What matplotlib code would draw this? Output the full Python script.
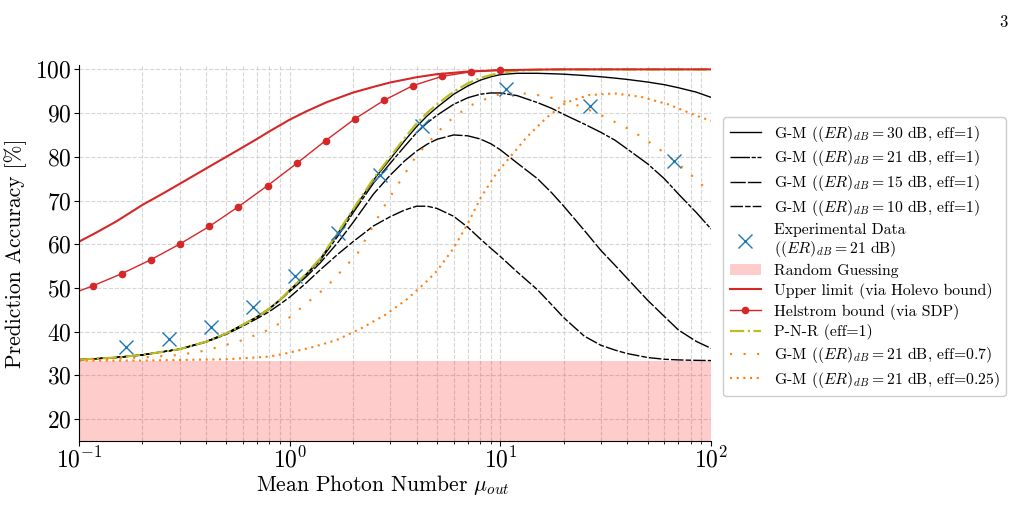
"""
Prediction accuracy vs mean photon number: G-M receivers, bounds and experiment.
"""

import matplotlib
matplotlib.use("Agg")
import matplotlib.pyplot as plt
from matplotlib.patches import Patch

plt.rcParams['font.family'] = ['cmr10', 'DejaVu Serif']
plt.rcParams['mathtext.fontset'] = 'cm'
plt.rcParams['axes.formatter.use_mathtext'] = True

# --- Data ---

# eff=1 curves share one grid of mean photon numbers
MU = [0.1, 0.15, 0.2, 0.3, 0.4, 0.5, 0.6, 0.7, 0.8, 0.9,
      1.0, 1.2, 1.4, 1.7, 2.0, 2.5, 3.0, 3.5, 4.0, 4.5,
      5.0, 6.0, 7.0, 8.0, 9.0, 10, 12, 15, 17.5, 20,
      25, 30, 35, 40, 50, 60, 70, 85, 100]

PNR = [33.6, 34.1, 34.7, 36.0, 37.7, 39.6, 41.6, 43.4, 45.3, 47.3,
       49.5, 53.3, 56.8, 62.8, 68.0, 75.0, 80.0, 84.2, 87.6, 90.1,
       92.0, 94.9, 96.8, 98.0, 98.7, 99.2, 99.7, 99.9, 100, 100,
       100, 100, 100, 100, 100, 100, 100, 100, 100]
GM_30 = [33.6, 34.1, 34.7, 36.0, 37.7, 39.6, 41.6, 43.4, 45.3, 47.3,
         49.5, 53.2, 56.7, 62.6, 67.8, 74.7, 79.5, 83.6, 86.9, 89.4,
         91.3, 94.3, 96.2, 97.5, 98.3, 98.8, 99.1, 99.1, 99.0, 98.9,
         98.6, 98.3, 98.0, 97.7, 97.1, 96.5, 95.8, 94.8, 93.6]
GM_21 = [33.6, 34.1, 34.7, 36.0, 37.7, 39.6, 41.6, 43.4, 45.3, 47.3,
         49.4, 53.0, 56.4, 62.0, 67.2, 74.0, 78.5, 82.3, 85.5, 87.8,
         89.5, 92.0, 93.5, 94.3, 94.6, 94.6, 94.0, 92.4, 91.1, 89.7,
         87.5, 85.6, 83.8, 81.8, 78.4, 75.0, 71.5, 67.3, 63.5]
GM_15 = [33.6, 34.1, 34.7, 36.0, 37.7, 39.6, 41.6, 43.3, 45.2, 47.2,
         49.2, 52.6, 55.8, 60.5, 65.0, 71.5, 75.8, 79.0, 81.3, 82.9,
         84.0, 85.0, 84.8, 84.1, 83.0, 81.6, 78.6, 75.0, 71.8, 68.7,
         63.2, 58.6, 55.2, 52.2, 47.2, 43.5, 40.4, 37.8, 36.2]
GM_10 = [33.6, 34.1, 34.7, 36.0, 37.6, 39.4, 41.3, 43.0, 44.6, 46.3,
         47.9, 51.2, 54.2, 57.8, 60.6, 64.2, 66.3, 67.8, 68.7, 68.7,
         68.2, 66.4, 63.9, 61.3, 59.1, 57.2, 53.7, 49.6, 46.2, 43.2,
         39.0, 36.9, 35.8, 35.0, 34.1, 33.7, 33.55, 33.45, 33.4]

MU_HOLEVO = [0.1, 0.12, 0.15, 0.2, 0.25, 0.3, 0.4, 0.5, 0.6, 0.7, 0.8, 1.0, 1.2, 1.5,
             2.0, 2.5, 3.0, 4.0, 5.0, 7.0, 10, 15, 20, 50, 100]
HOLEVO = [60.6, 62.6, 65.2, 69.0, 71.6, 73.8, 77.3, 80.0, 82.2, 84.1, 85.8, 88.5, 90.4, 92.5,
          94.7, 96.0, 97.0, 98.2, 98.9, 99.5, 99.8, 99.95, 100, 100, 100]

MU_HELSTROM = [0.1, 0.1165, 0.160, 0.220, 0.302, 0.416, 0.571, 0.785, 1.08, 1.48, 2.04, 2.80,
               3.85, 5.29, 7.27, 10.0]
HELSTROM = [49.3, 50.5, 53.3, 56.5, 60.1, 64.1, 68.6, 73.4, 78.5, 83.7, 88.7, 92.9,
            96.3, 98.4, 99.45, 99.9]

MU_EXP = [0.168, 0.267, 0.422, 0.672, 1.06, 1.69, 2.68, 4.23, 10.6, 26.6, 66.9]
EXP = [36.4, 38.3, 41.0, 45.6, 52.8, 62.6, 75.9, 87.0, 95.6, 91.6, 79.0]

MU_EFF07 = [0.1, 0.2, 0.3, 0.4, 0.5, 0.6, 0.8, 1.0, 1.5, 2.1, 2.85, 4.0, 5.5, 7.1, 9.4, 11.1,
            12.9, 15.1, 17.6, 23.9, 31.8, 42.4, 54.9, 70.8, 89.2, 100]
GM_21_EFF07 = [33.5, 34.1, 34.7, 35.7, 37.0, 38.1, 40.5, 43.3, 50.3, 57.9, 69.2, 80.3, 87.6, 91.6,
               94.1, 94.5, 94.5, 94.1, 93.5, 91.6, 89.0, 85.9, 82.3, 78.2, 73.9, 71.6]

MU_EFF025 = [0.1, 0.2, 0.5, 0.8, 0.95, 1.27, 1.67, 2.19, 2.83, 3.6, 4.49, 5.0, 5.98, 7.0, 8.1,
             9.6, 11.1, 13.4, 16.6, 20.5, 26.2, 34.9, 46.6, 62.7, 83.3, 100]
GM_21_EFF025 = [33.4, 33.4, 33.7, 34.3, 35.0, 36.4, 38.1, 40.8, 43.8, 47.4, 51.6, 53.9, 59.0,
                64.7, 70.8, 76.3, 79.9, 84.6, 89.0, 92.4, 94.1, 94.5, 93.7, 92.0, 89.6, 88.2]

RANDOM_GUESS = 100 / 3

# --- Plot ---
fig = plt.figure(figsize=(10.21, 5.05), dpi=100)
ax = fig.add_axes([0.0774, 0.1267, 0.619, 0.7446])

ax.axhspan(0, RANDOM_GUESS, color='red', alpha=0.2, lw=0)

l_30, = ax.plot(MU, GM_30, color='black', lw=1.0, ls='-')
l_21, = ax.plot(MU, GM_21, color='black', lw=1.0, ls=(0, (14, 1.2, 3, 1.2)))
l_15, = ax.plot(MU, GM_15, color='black', lw=1.0, ls=(0, (11, 1.5)))
l_10, = ax.plot(MU, GM_10, color='black', lw=1.0, ls=(0, (9, 1.5, 4, 1.5)))
l_pnr, = ax.plot(MU, PNR, color='tab:olive', lw=1.6, ls='-.')
l_hol, = ax.plot(MU_HOLEVO, HOLEVO, color='tab:red', lw=1.5)
l_hel, = ax.plot(MU_HELSTROM, HELSTROM, color='tab:red', lw=1.0, marker='o', ms=4.5,
                 markevery=list(range(1, len(MU_HELSTROM))))
l_e07, = ax.plot(MU_EFF07, GM_21_EFF07, color='tab:orange', lw=1.5, ls=(0, (1, 5.5)))
l_e025, = ax.plot(MU_EFF025, GM_21_EFF025, color='tab:orange', lw=1.5, ls=(0, (1, 2.2)))
l_exp, = ax.plot(MU_EXP, EXP, color='tab:blue', ls='none', marker='x', ms=10, mew=1.0)

rand_patch = Patch(facecolor='red', alpha=0.2, lw=0)

ax.set_xscale('log')
ax.set_xlim(0.1, 100)
ax.set_ylim(15, 101)
ax.set_yticks([20, 30, 40, 50, 60, 70, 80, 90, 100])
ax.tick_params(labelsize=17, pad=2)
ax.tick_params(axis='x', pad=0.5)
ax.spines['top'].set_visible(False)
ax.spines['right'].set_visible(False)
ax.grid(True, which='both', linestyle='--', color='#cccccc', lw=0.8, alpha=0.8)
ax.set_axisbelow(True)

ax.set_xlabel(r'Mean Photon Number $\mu_{out}$', fontsize=15.5, labelpad=1)
ax.xaxis.set_label_coords(0.48, -0.085)
ax.set_ylabel(r'Prediction Accuracy [%]', fontsize=15.5, labelpad=6)

handles = [l_30, l_21, l_15, l_10, l_exp, rand_patch, l_hol, l_hel, l_pnr, l_e07, l_e025]
labels = [
    r'G-M ($(ER)_{dB}=30$ dB, eff=1)',
    r'G-M ($(ER)_{dB}=21$ dB, eff=1)',
    r'G-M ($(ER)_{dB}=15$ dB, eff=1)',
    r'G-M ($(ER)_{dB}=10$ dB, eff=1)',
    'Experimental Data\n' + r'($(ER)_{dB}=21$ dB)',
    'Random Guessing',
    'Upper limit (via Holevo bound)',
    'Helstrom bound (via SDP)',
    'P-N-R (eff=1)',
    r'G-M ($(ER)_{dB}=21$ dB, eff=0.7)',
    r'G-M ($(ER)_{dB}=21$ dB, eff=0.25)',
]
ax.legend(handles, labels, loc='center left', bbox_to_anchor=(1.007, 0.49), fontsize=11.3,
          labelspacing=0.3, framealpha=1.0, edgecolor='#cccccc')

fig.text(0.987, 0.97, '3', fontsize=12, ha='right', va='top')

fig.savefig('out.png', dpi=100)
